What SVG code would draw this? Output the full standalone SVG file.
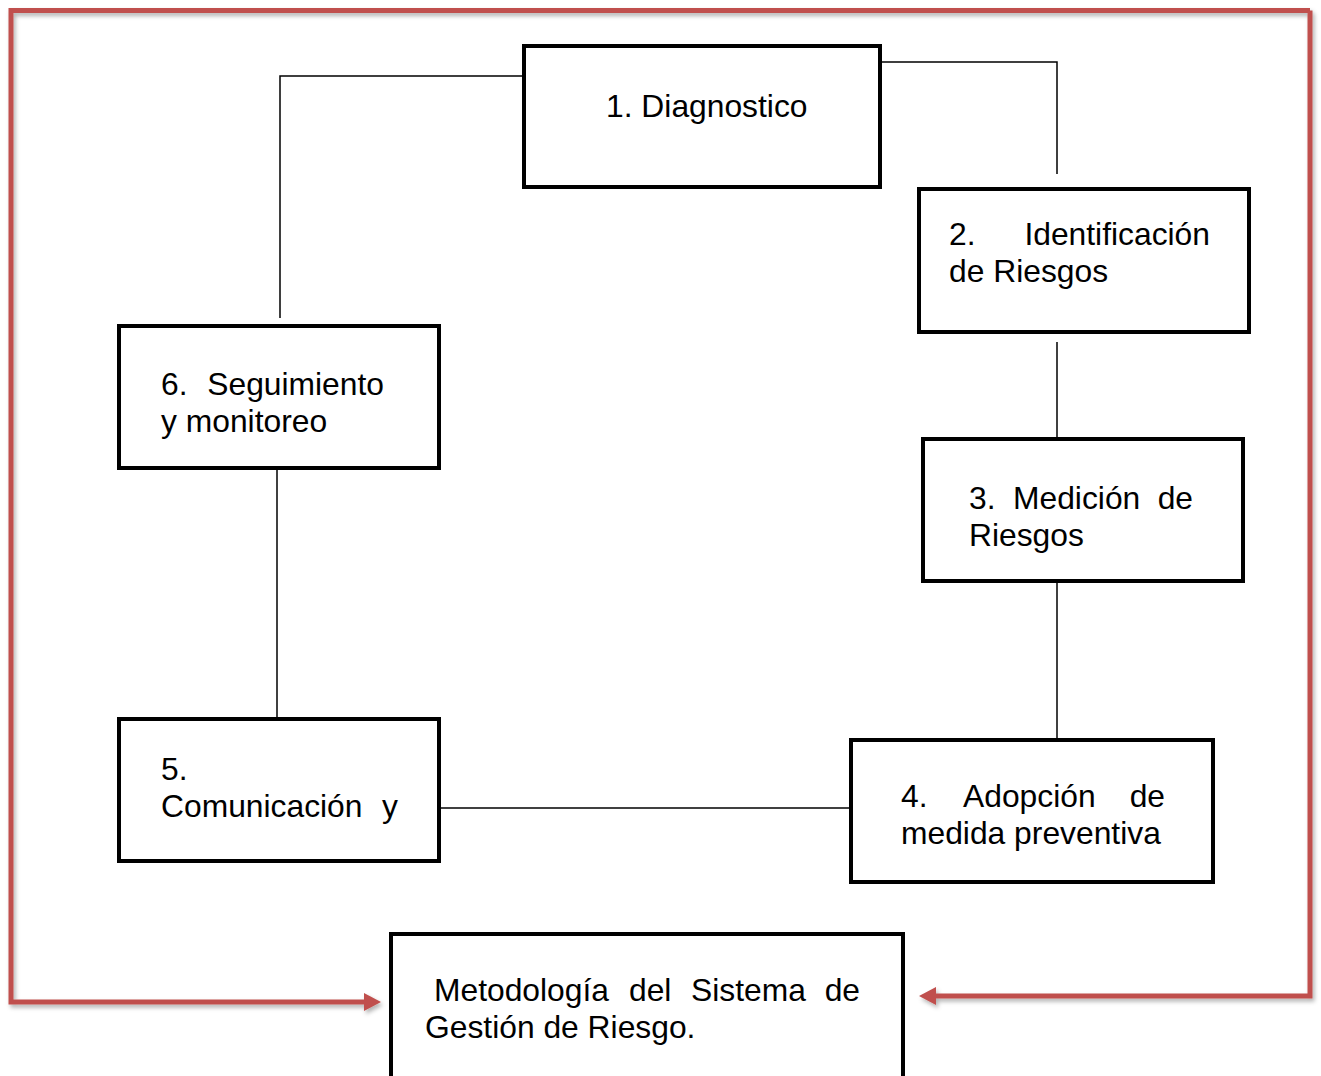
<svg xmlns="http://www.w3.org/2000/svg" width="1321" height="1076" viewBox="0 0 1321 1076">
<style>
.box{fill:#ffffff;stroke:#000000;stroke-width:4}
.t{font-family:"Liberation Sans",Arial,sans-serif;font-size:31.8px;fill:#000000}
.e{text-anchor:end}
.c{fill:none;stroke:#000000;stroke-width:1.5}
.r{fill:none;stroke:#c0504d;stroke-width:5;stroke-linejoin:miter}
</style>
<defs>
<filter id="sh" x="-5%" y="-5%" width="110%" height="110%">
<feDropShadow dx="2" dy="3" stdDeviation="2" flood-color="#000000" flood-opacity="0.3"/>
</filter>
<marker id="ah" markerUnits="userSpaceOnUse" markerWidth="17" markerHeight="18" refX="0" refY="9" orient="auto">
<path d="M0,0 L17,9 L0,18 z" fill="#c0504d"/>
</marker>
</defs>
<rect width="1321" height="1076" fill="#ffffff"/>
<g id="connectors">
<path class="c" d="M522,76 H280 V318"/>
<path class="c" d="M882,62 H1057 V174"/>
<path class="c" d="M1057,342 V437"/>
<path class="c" d="M1057,582 V738"/>
<path class="c" d="M440,808 H850"/>
<path class="c" d="M277,469 V717"/>
<g filter="url(#sh)">
<path class="r" d="M1310,10.5 H11 V1002 H364" marker-end="url(#ah)"/>
<path class="r" d="M1310,10.5 V996 H936" marker-end="url(#ah)"/>
</g>
</g>
<g id="n1">
<rect class="box" x="524" y="46" width="356" height="141"/>
<text class="t" x="606" y="117">1. Diagnostico</text>
</g>
<g id="n2">
<rect class="box" x="919" y="189" width="330" height="143"/>
<text class="t" x="949" y="245">2.</text>
<text class="t e" x="1210" y="245">Identificación</text>
<text class="t" x="949" y="282">de Riesgos</text>
</g>
<g id="n3">
<rect class="box" x="923" y="439" width="320" height="142"/>
<text class="t" x="969" y="509">3.</text>
<text class="t" x="1013" y="509">Medición</text>
<text class="t e" x="1193" y="509">de</text>
<text class="t" x="969" y="546">Riesgos</text>
</g>
<g id="n4">
<rect class="box" x="851" y="740" width="362" height="142"/>
<text class="t" x="901" y="807">4.</text>
<text class="t" x="963" y="807">Adopción</text>
<text class="t e" x="1165" y="807">de</text>
<text class="t" x="901" y="844">medida preventiva</text>
</g>
<g id="n5">
<rect class="box" x="119" y="719" width="320" height="142"/>
<text class="t" x="161" y="780">5.</text>
<text class="t" x="161" y="817">Comunicación</text>
<text class="t e" x="398" y="817">y</text>
</g>
<g id="n6">
<rect class="box" x="119" y="326" width="320" height="142"/>
<text class="t" x="161" y="395">6.</text>
<text class="t e" x="384" y="395">Seguimiento</text>
<text class="t" x="161" y="432">y monitoreo</text>
</g>
<g id="n7">
<rect class="box" x="391" y="934" width="512" height="150"/>
<text class="t" x="434" y="1001">Metodología</text>
<text class="t" x="629" y="1001">del</text>
<text class="t" x="691" y="1001">Sistema</text>
<text class="t e" x="860" y="1001">de</text>
<text class="t" x="425" y="1038">Gestión de Riesgo.</text>
</g>
</svg>
